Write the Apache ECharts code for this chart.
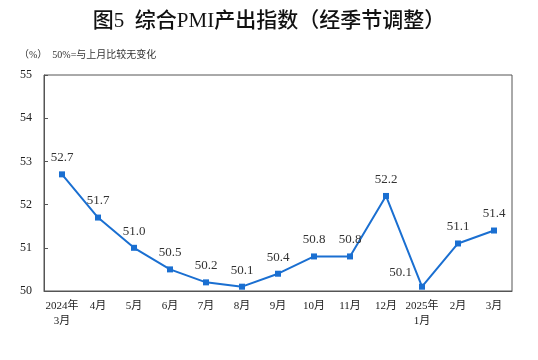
<!DOCTYPE html>
<html><head><meta charset="utf-8">
<script src="https://cdn.jsdelivr.net/npm/echarts@6/dist/echarts.min.js"></script>
<style>html,body{margin:0;padding:0;background:#fff}#c{width:538px;height:360px}</style>
</head><body><div id="c"></div>
<script>
const categories = ['2024年\n3月','4月','5月','6月','7月','8月','9月','10月','11月','12月','2025年\n1月','2月','3月'];
const values = [52.7, 51.7, 51.0, 50.5, 50.2, 50.1, 50.4, 50.8, 50.8, 52.2, 50.1, 51.1, 51.4];
const yTicks = [50, 51, 52, 53, 54, 55];
const titleText = '图5  综合PMI产出指数（经季节调整）';
const subText = '（%）  50%=与上月比较无变化';

const FONT = '"Liberation Serif", "Noto Sans CJK SC", serif';
const chart = echarts.init(document.getElementById('c'));
const data = values.map((v, i) => {
  const d = { value: v };
  if (i === 10) d.label = { position: 'left', offset: [0, -14] };
  return d;
});
chart.setOption({
  animation: false,
  title: [
    { text: titleText, left: 'center', top: 6, textStyle: { fontFamily: FONT, fontSize: 21, fontWeight: 500, color: '#111' } },
    { text: subText, left: 14, top: 45, textStyle: { fontFamily: FONT, fontSize: 10, fontWeight: 'normal', color: '#333' } }
  ],
  grid: { left: 44, right: 26, top: 75, bottom: 69, show: true, borderColor: '#555', borderWidth: 1, backgroundColor: 'transparent' },
  xAxis: {
    type: 'category', data: categories, boundaryGap: true,
    axisLine: { lineStyle: { color: '#555', width: 1 } },
    axisTick: { inside: true, length: 4, lineStyle: { color: '#555' } },
    axisLabel: { fontFamily: FONT, fontSize: 11, color: '#222', margin: 8, lineHeight: 15, interval: 0 }
  },
  yAxis: {
    type: 'value', min: yTicks[0], max: yTicks[yTicks.length - 1], interval: 1,
    axisLine: { show: true, lineStyle: { color: '#555', width: 1 } },
    axisTick: { show: true, inside: true, length: 4, lineStyle: { color: '#555' } },
    splitLine: { show: false },
    axisLabel: { fontFamily: FONT, fontSize: 12, color: '#222', margin: 12 }
  },
  series: [{
    type: 'line', data: data,
    symbol: 'rect', symbolSize: 6,
    lineStyle: { color: '#1a6fd1', width: 2 },
    itemStyle: { color: '#1a6fd1' },
    label: { show: true, position: 'top', distance: 7, fontFamily: FONT, fontSize: 13, color: '#333', formatter: p => p.value.toFixed(1) }
  }]
});
</script></body></html>
